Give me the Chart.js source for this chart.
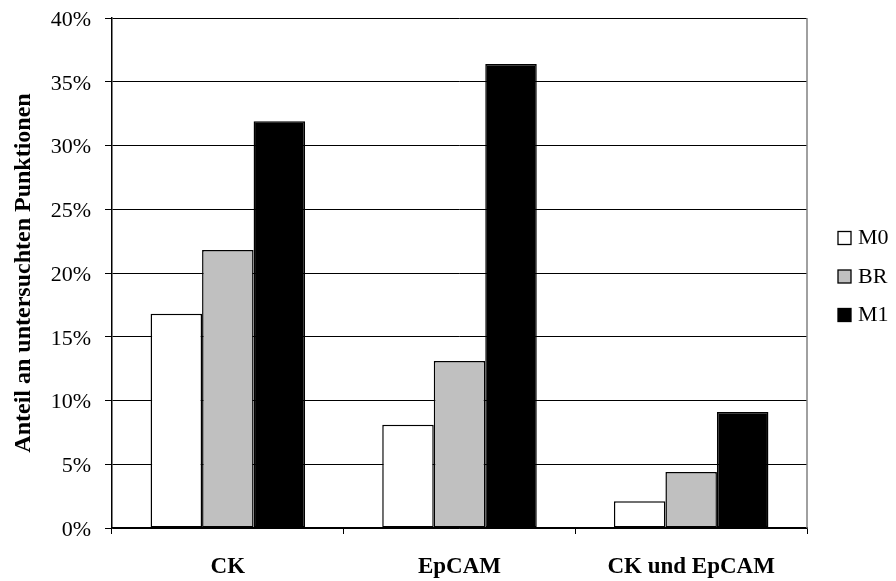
<!DOCTYPE html>
<html>
<head>
<meta charset="utf-8">
<script src="https://cdn.jsdelivr.net/npm/chart.js@4.4.1/dist/chart.umd.min.js"></script>
<style>
  html, body { margin: 0; padding: 0; background: #ffffff; }
  #wrap { width: 896px; height: 581px; position: relative; }
</style>
</head>
<body>
<div id="wrap"><canvas id="chart" width="896" height="581"></canvas></div>
<script>
// Proportion of examined punctures by marker and group (percent)
const categories = ['CK', 'EpCAM', 'CK und EpCAM'];
const seriesNames = ['M0', 'BR', 'M1'];
const valuesM0 = [16.8, 8.1, 2.1];
const valuesBR = [21.8, 13.1, 4.4];
const valuesM1 = [31.9, 36.4, 9.1];
const yTicks = [0, 5, 10, 15, 20, 25, 30, 35, 40];

const FONT = '"Liberation Serif", "Times New Roman", Times, serif';
const fills = ['#ffffff', '#c0c0c0', '#000000'];

// Right-hand frame line of the plot area
const frame = {
  id: 'frame',
  afterDatasetsDraw(chart) {
    const { ctx, chartArea: a } = chart;
    ctx.save();
    ctx.strokeStyle = '#808080';
    ctx.lineWidth = 1.5;
    ctx.beginPath();
    ctx.moveTo(a.right, a.top);
    ctx.lineTo(a.right, a.bottom);
    ctx.stroke();
    ctx.restore();
  }
};

// Series key drawn to the right of the plot area
const sideLegend = {
  id: 'sideLegend',
  afterDraw(chart) {
    const { ctx, chartArea: a } = chart;
    const ds = chart.data.datasets;
    const step = 38.5;
    const cy = (a.top + a.bottom) / 2 + 3;
    const x0 = a.right + 31;
    ctx.save();
    ctx.font = '22px ' + FONT;
    ctx.textBaseline = 'middle';
    ctx.textAlign = 'left';
    ds.forEach((d, i) => {
      const y = cy + (i - (ds.length - 1) / 2) * step;
      ctx.fillStyle = d.backgroundColor;
      ctx.fillRect(x0, y - 6, 13, 13);
      ctx.strokeStyle = '#000';
      ctx.lineWidth = 1.3;
      ctx.strokeRect(x0, y - 6, 13, 13);
      ctx.fillStyle = '#000';
      ctx.fillText(d.label, x0 + 20, y + 1);
    });
    ctx.restore();
  }
};

const seriesValues = [valuesM0, valuesBR, valuesM1];

new Chart(document.getElementById('chart'), {
  type: 'bar',
  data: {
    labels: categories,
    datasets: seriesNames.map((name, i) => ({
      label: name,
      data: seriesValues[i],
      backgroundColor: fills[i],
      borderColor: '#000000',
      borderWidth: 1.5,
      borderSkipped: false,
      categoryPercentage: 0.667,
      barPercentage: 1.0
    }))
  },
  options: {
    responsive: false,
    animation: false,
    devicePixelRatio: 1,
    layout: { padding: { top: 18, right: 89, bottom: 0, left: 0 } },
    plugins: {
      legend: { display: false },
      tooltip: { enabled: false }
    },
    scales: {
      x: {
        offset: true,
        grid: {
          offset: true,
          drawOnChartArea: false,
          drawTicks: true,
          tickLength: 6,
          color: '#000000',
          lineWidth: 1
        },
        border: { color: '#000000', width: 1.5 },
        ticks: {
          color: '#000000',
          padding: 19,
          font: { family: FONT, size: 23, weight: 'bold' }
        },
        afterFit(scale) { scale.height = 53; }
      },
      y: {
        min: 0,
        max: 40,
        afterBuildTicks(scale) { scale.ticks = yTicks.map(v => ({ value: v })); },
        grid: {
          color: '#000000',
          lineWidth: 1,
          drawTicks: true,
          tickLength: 7
        },
        border: { color: '#000000', width: 1.5 },
        ticks: {
          color: '#000000',
          padding: 14,
          labelOffset: 2,
          font: { family: FONT, size: 22 },
          callback: v => v + '%'
        },
        title: {
          display: true,
          text: 'Anteil an untersuchten Punktionen',
          color: '#000000',
          font: { family: FONT, size: 24, weight: 'bold' },
          padding: { top: 9, bottom: 0 }
        },
        afterFit(scale) {
          scale.width = 112;
          scale.paddingTop = 0;
          scale.paddingBottom = 0;
        }
      }
    }
  },
  plugins: [frame, sideLegend]
});
</script>
</body>
</html>
